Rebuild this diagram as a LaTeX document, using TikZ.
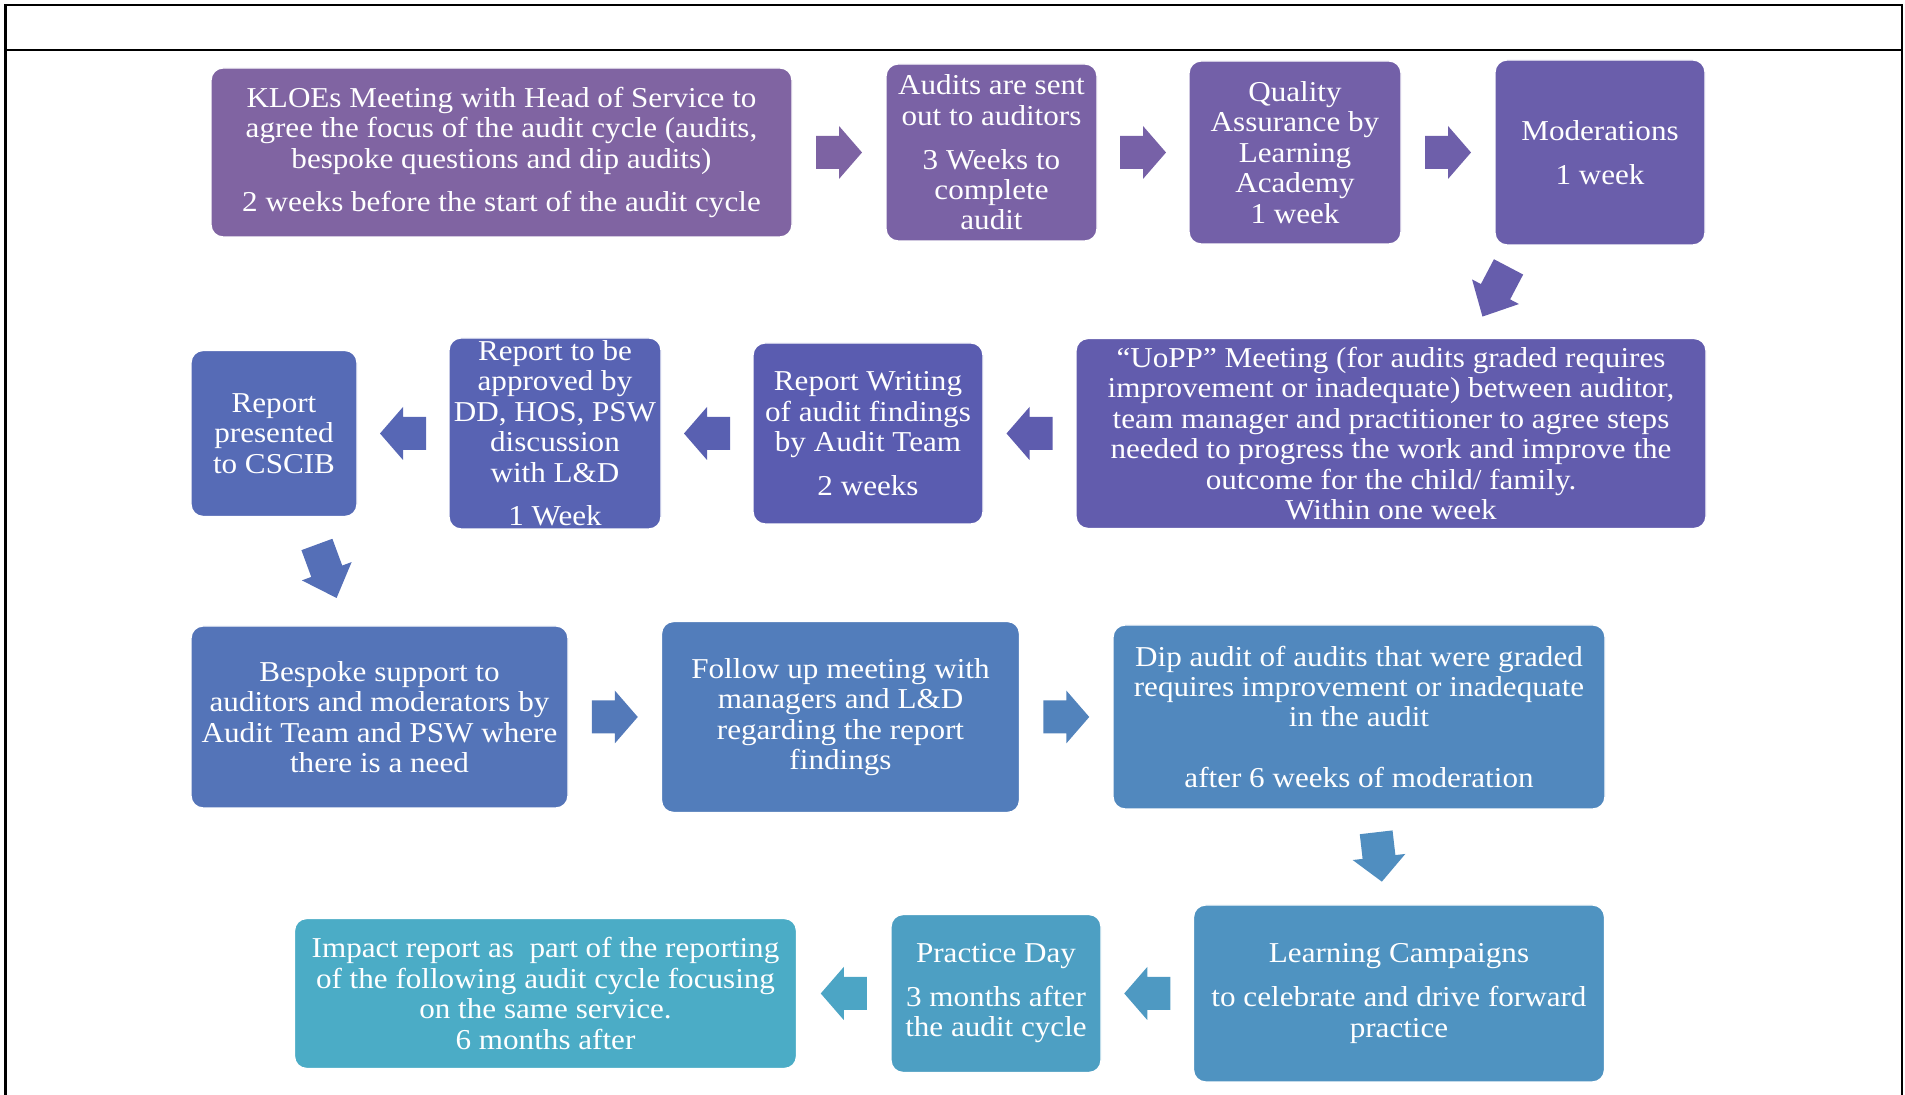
\documentclass[tikz,border=0pt]{standalone}
\usepackage{fontspec}
\setmainfont{Liberation Serif}[FakeStretch=1.08]
\usetikzlibrary{calc}
\definecolor{bx0}{HTML}{8064A2}
\definecolor{bx1}{HTML}{7A62A5}
\definecolor{bx2}{HTML}{7360A8}
\definecolor{bx3}{HTML}{6A5EAB}
\definecolor{bx4}{HTML}{625CAD}
\definecolor{bx5}{HTML}{5A5CB0}
\definecolor{bx6}{HTML}{5863B3}
\definecolor{bx7}{HTML}{566BB6}
\definecolor{bx8}{HTML}{5474B8}
\definecolor{bx9}{HTML}{527DBB}
\definecolor{bx10}{HTML}{5188BE}
\definecolor{bx11}{HTML}{4F93C1}
\definecolor{bx12}{HTML}{4D9FC3}
\definecolor{bx13}{HTML}{4BACC6}
\def\boxfont{\fontsize{8.2pt}{8.65pt}\selectfont}
\def\gap{\\[3.8pt]}
\tikzset{
  stepbox/.style={rounded corners=0.12cm, draw=white, line width=0.4pt, text=white, align=center, font=\boxfont, inner sep=0pt},
  pics/fatarrow/.style={code={
    \fill (-0.23,-0.165) -- (0,-0.165) -- (0,-0.265) -- (0.23,0) -- (0,0.265) -- (0,0.165) -- (-0.23,0.165) -- cycle;
  }}
}

\begin{document}
\begin{tikzpicture}
				\useasboundingbox (0,0) rectangle (19.05,10.95);
				\draw[line width=0.7pt] (0.055,-0.2) -- (0.055,10.90) -- (19.02,10.90) -- (19.02,-0.2);
				\draw[line width=0.7pt] (0.055,10.45) -- (19.02,10.45);
				
				\node[stepbox, fill=bx0, minimum width=5.81cm, minimum height=1.69cm] (kloes) at (5.015,9.425) {KLOEs Meeting with Head of Service to\\agree the focus of the audit cycle (audits,\\bespoke questions and dip audits)\gap 2 weeks before the start of the audit cycle};
				\node[stepbox, fill=bx1, minimum width=2.11cm, minimum height=1.77cm] (sent) at (9.915,9.425) {Audits are sent\\out to auditors\gap 3 Weeks to\\complete\\audit};
				\node[stepbox, fill=bx2, minimum width=2.12cm, minimum height=1.83cm] (qa) at (12.95,9.425) {Quality\\Assurance by\\Learning\\Academy\\1 week};
				\node[stepbox, fill=bx3, minimum width=2.10cm, minimum height=1.85cm] (moder) at (16.00,9.425) {Moderations\gap 1 week};
				
				\node[stepbox, fill=bx4, minimum width=6.30cm, minimum height=1.90cm] (uopp) at (13.91,6.615) {“UoPP” Meeting (for audits graded requires\\improvement or inadequate) between auditor,\\team manager and practitioner to agree steps\\needed to progress the work and improve the\\outcome for the child/ family.\\Within one week};
				\node[stepbox, fill=bx5, minimum width=2.30cm, minimum height=1.81cm] (writing) at (8.68,6.615) {Report Writing\\of audit findings\\by Audit Team\gap 2 weeks};
				\node[stepbox, fill=bx6, minimum width=2.12cm, minimum height=1.91cm] (approve) at (5.55,6.615) {Report to be\\approved by\\DD, HOS, PSW\\discussion\\with L\&D\gap 1 Week};
				\node[stepbox, fill=bx7, minimum width=1.66cm, minimum height=1.66cm] (present) at (2.74,6.615) {Report\\presented\\to CSCIB};
				
				\node[stepbox, fill=bx8, minimum width=3.77cm, minimum height=1.82cm] (bespoke) at (3.795,3.78) {Bespoke support to\\auditors and moderators by\\Audit Team and PSW where\\there is a need};
				\node[stepbox, fill=bx9, minimum width=3.58cm, minimum height=1.91cm] (follow) at (8.405,3.78) {Follow up meeting with\\managers and L\&D\\regarding the report\\findings};
				\node[stepbox, fill=bx10, minimum width=4.92cm, minimum height=1.84cm] (dip) at (13.59,3.78) {Dip audit of audits that were graded\\requires improvement or inadequate\\in the audit\\ \\after 6 weeks of moderation};
				
				\node[stepbox, fill=bx11, minimum width=4.11cm, minimum height=1.77cm] (campaign) at (13.99,1.015) {Learning Campaigns\gap to celebrate and drive forward\\practice};
				\node[stepbox, fill=bx12, minimum width=2.10cm, minimum height=1.58cm] (practice) at (9.96,1.015) {Practice Day\gap 3 months after\\the audit cycle};
				\node[stepbox, fill=bx13, minimum width=5.02cm, minimum height=1.50cm] (impact) at (5.455,1.015) {Impact report as\ \ part of the reporting\\of the following audit cycle focusing\\on the same service.\\6 months after};
				
				\pic[bx0!50!bx1] at ($(kloes.east)!0.5!(sent.west)$) {fatarrow};
				\pic[bx1!50!bx2] at ($(sent.east)!0.5!(qa.west)$) {fatarrow};
				\pic[bx2!50!bx3] at ($(qa.east)!0.5!(moder.west)$) {fatarrow};
				\pic[bx3!50!bx4, rotate=242.3, xscale=1.22] at ($(moder.south)!0.5!(uopp.north)$) {fatarrow};
				
				\pic[bx4!50!bx5, rotate=180] at ($(uopp.west)!0.5!(writing.east)$) {fatarrow};
				\pic[bx5!50!bx6, rotate=180] at ($(writing.west)!0.5!(approve.east)$) {fatarrow};
				\pic[bx6!50!bx7, rotate=180] at ($(approve.west)!0.5!(present.east)$) {fatarrow};
				\pic[bx7!50!bx8, rotate=290.2, xscale=1.24] at ($(present.south)!0.5!(bespoke.north)$) {fatarrow};
				
				\pic[bx8!50!bx9] at ($(bespoke.east)!0.5!(follow.west)$) {fatarrow};
				\pic[bx9!50!bx10] at ($(follow.east)!0.5!(dip.west)$) {fatarrow};
				\pic[bx10!50!bx11, rotate=276.6, xscale=1.08] at ($(dip.south)!0.5!(campaign.north)$) {fatarrow};
				
				\pic[bx11!50!bx12, rotate=180] at ($(campaign.west)!0.5!(practice.east)$) {fatarrow};
				\pic[bx12!50!bx13, rotate=180] at ($(practice.west)!0.5!(impact.east)$) {fatarrow};
			\end{tikzpicture}
\end{document}
